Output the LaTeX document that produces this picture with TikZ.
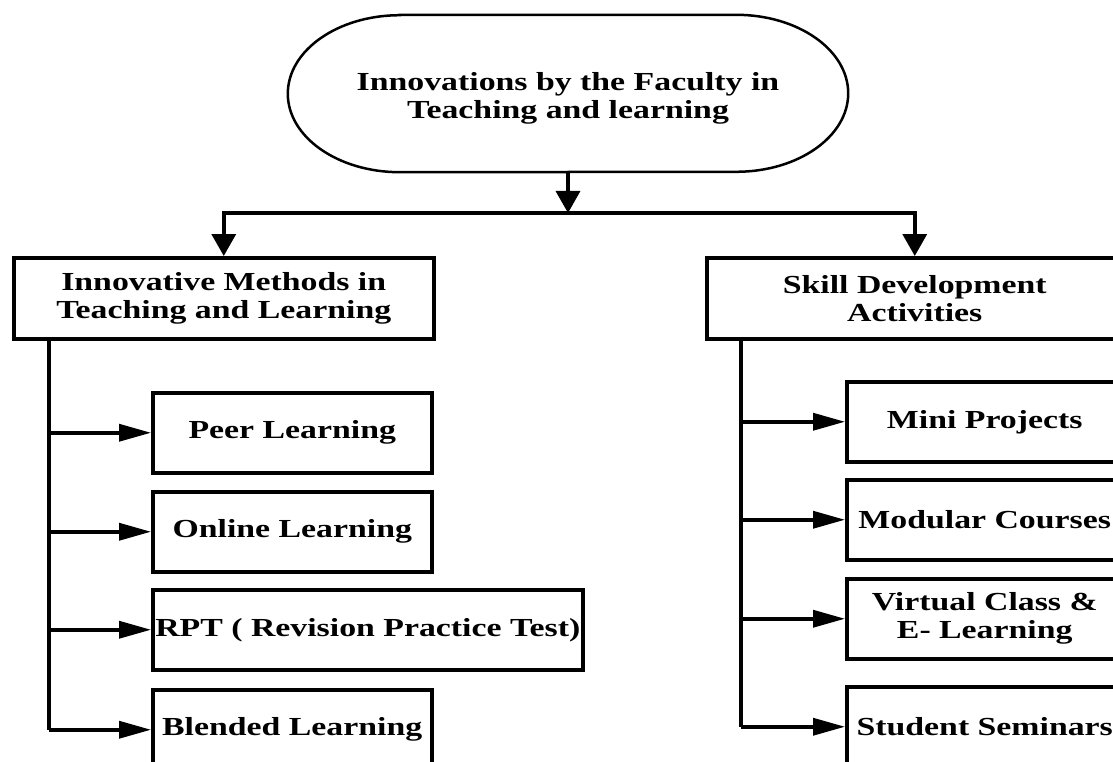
\documentclass[tikz,border=0pt]{standalone}
\usepackage{fontspec}
\setmainfont{Liberation Serif}[FakeStretch=1.3]
\usetikzlibrary{positioning,arrows.meta}

\begin{document}
\begin{tikzpicture}[x=1pt, y=1pt,
		bigtext/.style={font=\fontsize{26}{28}\selectfont\bfseries, align=center},
		box/.style={bigtext, rectangle, draw, line width=3.5pt, minimum height=80pt, inner xsep=1pt},
		link/.style={line width=3.5pt},
		harrow/.style={link, -{Triangle[length=32pt,width=17pt]}},
		varrow/.style={link, -{Triangle[length=22pt,width=24pt]}}
		]
		\useasboundingbox (0,0) rectangle (1113,-762);
		\clip (0,0) rectangle (1113,-762);
		
		\node[bigtext, minimum width=560pt, minimum height=148pt](top) at (568,-98)
		{Innovations by the Faculty in\\Teaching and learning};
		\draw[line width=2.5pt] ([shift={(112pt,9pt)}]top.north west) -- ([shift={(-112pt,9pt)}]top.north east)
		arc[start angle=90, end angle=-90, x radius=112pt, y radius=78.5pt]
		-- ([xshift=112pt]top.south west)
		arc[start angle=270, end angle=90, x radius=112pt, y radius=78.5pt] -- cycle;
		\coordinate (J) at (568,-213);
		
		\node[box, minimum width=420pt, minimum height=81pt, anchor=north west](M0) at (12,-256)
		{Innovative Methods in\\Teaching and Learning};
		\node[box, minimum width=416pt, minimum height=81pt, anchor=north west](S0) at (705,-256)
		{Skill Development\\Activities};
		
		\node[box, minimum width=279pt, anchor=north west](M1) at (151,-391){Peer Learning};
		\node[box, minimum width=279pt, below = 15.5pt of M1](M2){Online Learning};
		\node[box, minimum width=430pt, below = 14.5pt of M2.south west, anchor=north west](M3){RPT ( Revision Practice Test)};
		\node[box, minimum width=279pt, below = 16.5pt of M3.south west, anchor=north west](M4){Blended Learning};
		
		\node[box, minimum width=276pt, anchor=north west](S1) at (845,-380){Mini Projects};
		\node[box, minimum width=276pt, below = 14.5pt of S1](S2){Modular Courses};
		\node[box, minimum width=276pt, below = 15.5pt of S2](S3){Virtual Class \&\\E- Learning};
		\node[box, minimum width=276pt, below = 24.5pt of S3](S4){Student Seminars};
		
		\draw[varrow] (top.south) -- (J);
		\draw[varrow] (J) -| (M0.north);
		\draw[varrow] (J) -| (S0.north);
		
		\coordinate (MT) at ([xshift=37pt]M0.south west);
		\coordinate (ST) at ([xshift=36pt]S0.south west);
		\draw[link] (MT) -- (MT |- M4.west);
		\draw[link] (ST) -- (ST |- S4.west);
		\foreach \i in {1,...,4}{
			\draw[harrow] (MT |- M\i.west) -- (M\i.west);
			\draw[harrow] (ST |- S\i.west) -- (S\i.west);
		}
	\end{tikzpicture}
\end{document}
